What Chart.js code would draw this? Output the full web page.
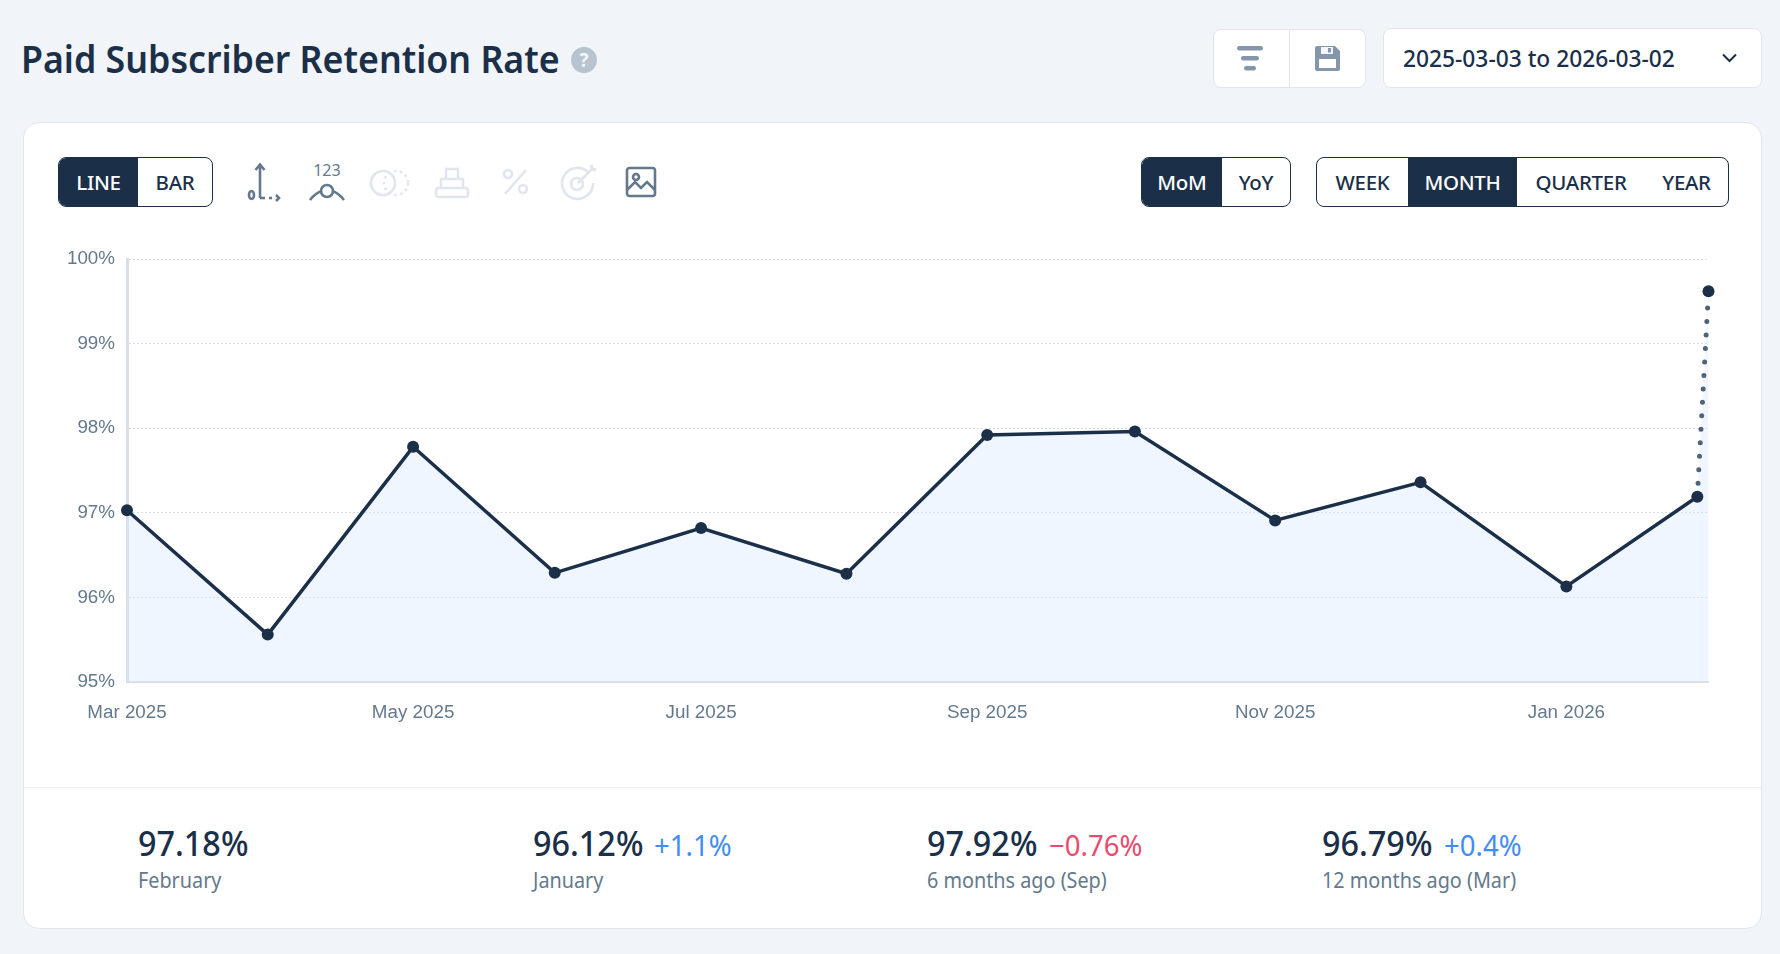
<!DOCTYPE html>
<html>
<head>
<meta charset="utf-8">
<title>Paid Subscriber Retention Rate</title>
<script src="https://cdn.jsdelivr.net/npm/chart.js@4"></script>
<style>
html, body { margin: 0; padding: 0; }
body { width: 1780px; height: 954px; background: #f1f4f9; overflow: hidden; position: relative; font-family: "Noto Sans", sans-serif; color: #1b3048; }
.abs { position: absolute; }
.txt { position: absolute; white-space: nowrap; transform-origin: left center; transform: scaleX(.9); line-height: 1; }
h1.txt { margin: 0; left: 21px; top: 39px; font-size: 38px; font-weight: 600; transform: scaleX(.94); }
.box { position: absolute; background: #fff; border: 1px solid #e1e6ee; border-radius: 8px; box-sizing: border-box; }
#card { left: 23px; top: 122px; width: 1739px; height: 807px; border-radius: 16px; }
#divider { position: absolute; left: 24px; top: 787px; width: 1737px; height: 1px; background: #edf0f4; }
.group { position: absolute; top: 157px; height: 50px; box-sizing: border-box; border: 1px solid #1b3048; border-radius: 8px; overflow: hidden; background: #fff; display: flex; }
.group span { display: block; height: 100%; text-align: center; line-height: 48px; font-size: 20.5px; font-weight: 500; letter-spacing: -.3px; color: #1b3048; }
.group span.on { background: #1b3048; color: #fff; }
svg { position: absolute; overflow: visible; }
canvas { position: absolute; left: 23px; top: 220px; }
.val { font-size: 35px; font-weight: 500; top: 825px; transform: scaleX(.925); }
.delta { font-size: 29px; font-weight: 400; top: 830px; transform: scaleX(.95); }
.sub { font-size: 22px; color: #64798c; top: 868px; }
</style>
</head>
<body>
<h1 class="txt">Paid Subscriber Retention Rate</h1>
<svg style="left:571px;top:47px" width="26" height="26" viewBox="0 0 26 26"><circle cx="13" cy="13" r="13" fill="#b7c4d0"/><text x="13" y="20" text-anchor="middle" font-family="Noto Sans" font-weight="700" font-size="19" fill="#f1f4f9">?</text></svg>

<div class="box" style="left:1213px;top:29px;width:153px;height:59px"></div>
<div class="abs" style="left:1289px;top:29px;width:1px;height:59px;background:#e1e6ee"></div>
<svg style="left:1237px;top:45px" width="27" height="26"><g fill="#8497aa"><rect x="0" y="1" width="26" height="4.5" rx="2.2"/><rect x="4" y="11" width="18" height="4.5" rx="2.2"/><rect x="7" y="21" width="12" height="4.5" rx="2.2"/></g></svg>
<svg style="left:1315px;top:46px" width="26" height="25"><path d="M0 2a2 2 0 0 1 2-2h18l5 5v18a2 2 0 0 1-2 2H2a2 2 0 0 1-2-2z" fill="#8497aa"/><rect x="4" y="13" width="17" height="9" fill="#fff"/><rect x="6" y="1" width="12" height="7" fill="#f4f6f9"/><rect x="13" y="2" width="3" height="4.5" fill="#8497aa"/></svg>
<div class="box" style="left:1383px;top:28px;width:379px;height:60px"></div>
<span class="txt" id="range" style="left:1403px;top:46px;font-size:24px;font-weight:500;transform:scaleX(.948)"></span>
<svg style="left:1722px;top:53px" width="15" height="10"><path d="M1 1.5l6.5 6.5 6.5-6.5" fill="none" stroke="#1b3048" stroke-width="2"/></svg>

<div class="box" id="card"></div>
<div id="divider"></div>

<div class="group" style="left:58px;width:155px"><span class="on" style="width:80px">LINE</span><span style="width:75px">BAR</span></div>
<div class="group" style="left:1141px;width:150px"><span class="on" style="width:81px">MoM</span><span style="width:69px">YoY</span></div>
<div class="group" style="left:1316px;width:413px"><span style="width:91px">WEEK</span><span class="on" style="width:109px">MONTH</span><span style="width:128px">QUARTER</span><span style="width:83px">YEAR</span></div>

<!-- toolbar icons -->
<svg style="left:247px;top:162px" width="34" height="40" fill="none" stroke="#64798c" stroke-width="2.6">
  <path d="M13 36V3M8.5 8L13 2.5 17.5 8"/><ellipse cx="4.5" cy="33" rx="2.5" ry="4"/><path d="M13 36h5" /><path d="M22 36h3" /><path d="M29 33l3 3-3 3" />
</svg>
<svg style="left:308px;top:161px" width="38" height="40" fill="none" stroke="#64798c" stroke-width="2.6">
  <text x="20" y="15" text-anchor="middle" font-family="Noto Sans" font-size="17" fill="#64798c" stroke="none" transform="scale(.95 1)">123</text>
  <circle cx="19" cy="30" r="6"/><path d="M2 39c4-5 8-8 12-9M36 39c-4-5-8-8-12-9"/>
</svg>
<svg style="left:369px;top:169px" width="41" height="28" fill="none" stroke="#e1e6ee" stroke-width="2.6">
  <circle cx="27" cy="14" r="12" stroke-dasharray="2.5 3.5"/><circle cx="14" cy="14" r="12"/>
</svg>
<svg style="left:434px;top:166px" width="36" height="33" fill="none" stroke="#e1e6ee" stroke-width="2.6">
  <rect x="2" y="22" width="32" height="9" rx="2.5"/><path d="M7 22v-9h22v9M12 13V3h12v10"/>
</svg>
<svg style="left:502px;top:168px" width="28" height="28" fill="none" stroke="#e1e6ee" stroke-width="2.6">
  <circle cx="6" cy="6" r="4"/><circle cx="21" cy="21" r="4"/><path d="M24 2L3 26"/>
</svg>
<svg style="left:561px;top:162px" width="39" height="38" fill="none" stroke="#e1e6ee" stroke-width="2.6">
  <path d="M28 11a15.5 15.5 0 1 0 4 10"/><circle cx="16" cy="22" r="6"/><path d="M17 21L32 6"/><path d="M30 3l1 4 4 1" stroke-width="3.4"/>
</svg>
<svg style="left:625px;top:166px" width="32" height="32" fill="none" stroke="#64798c" stroke-width="2.6">
  <rect x="2" y="2" width="28" height="28" rx="2.5"/><circle cx="11" cy="11" r="3"/><path d="M2 24l8-8 6 6 6-6 8 8"/>
</svg>

<canvas id="grafico" width="1738" height="560"></canvas>

<div id="stats"></div>

<script>
const dateRange = '2025-03-03 to 2026-03-02';

// meses no eixo x e posição de cada ponto (dias desde o início)
const tickLabels = ['Mar 2025', 'May 2025', 'Jul 2025', 'Sep 2025', 'Nov 2025', 'Jan 2026'];
const tickDays = [0, 61.4, 123.2, 184.6, 246.4, 308.9];
const days = [0, 30.2, 61.4, 91.8, 123.2, 154.4, 184.6, 216.3, 246.4, 277.6, 308.9, 337, 339.4];
const retention = [97.03, 95.56, 97.78, 96.29, 96.82, 96.28, 97.92, 97.96, 96.91, 97.36, 96.13, 97.19, 99.62];
const yTicks = [95, 96, 97, 98, 99, 100];

const statValues = ['97.18%', '96.12%', '97.92%', '96.79%'];
const statDeltas = ['', '+1.1%', '\u22120.76%', '+0.4%'];
const statDeltaColors = ['', '#3f8cf6', '#ea4a6e', '#3f8cf6'];
const statNames = ['February', 'January', '6 months ago (Sep)', '12 months ago (Mar)'];
const statLeft = [137.5, 532.5, 927, 1322];
const statDeltaLeft = [0, 654, 1049, 1444];

document.getElementById('range').textContent = dateRange;

// Linha de estatísticas em baixo
const stats = document.getElementById('stats');
statValues.forEach((valor, i) => {
    stats.innerHTML += `<span class="txt val" style="left:${statLeft[i]}px">${valor}</span>`;
    if (statDeltas[i]) {
        stats.innerHTML += `<span class="txt delta" style="left:${statDeltaLeft[i]}px;color:${statDeltaColors[i]}">${statDeltas[i]}</span>`;
    }
    stats.innerHTML += `<span class="txt sub" style="left:${statLeft[i]}px">${statNames[i]}</span>`;
});

const ultimo = days.length - 1;
const ctx = document.getElementById('grafico').getContext('2d');

new Chart(ctx, {
    type: 'line',
    data: {
        datasets: [{
            data: days.map((d, i) => ({ x: d, y: retention[i] })),
            borderColor: '#1b3048',
            borderWidth: 3.5,
            backgroundColor: 'rgba(214,232,255,.4)',
            fill: 'start',
            tension: 0,
            pointRadius: 6,
            pointBorderWidth: 0,
            pointBackgroundColor: '#1b3048',
            clip: false,
            segment: {
                borderDash: c => c.p1DataIndex === ultimo ? [0, 13.5] : undefined,
                borderColor: c => c.p1DataIndex === ultimo ? '#4f6278' : undefined,
                borderWidth: c => c.p1DataIndex === ultimo ? 5 : undefined,
                borderCapStyle: c => c.p1DataIndex === ultimo ? 'round' : undefined
            }
        }]
    },
    options: {
        responsive: false,
        animation: false,
        layout: { padding: { top: 39, right: 52.5, left: 0, bottom: 0 } },
        plugins: { legend: { display: false }, tooltip: { enabled: false } },
        scales: {
            x: {
                type: 'linear',
                min: days[0],
                max: days[ultimo],
                afterFit: scale => { scale.height = 98; },
                afterBuildTicks: scale => { scale.ticks = tickDays.map(v => ({ value: v })); },
                grid: { display: false },
                border: { display: true, color: '#d9e0ea', width: 2 },
                ticks: {
                    autoSkip: false,
                    maxRotation: 0,
                    padding: 12,
                    color: '#64798c',
                    font: { family: 'Liberation Sans', size: 18.8 },
                    callback: v => tickLabels[tickDays.indexOf(v)]
                }
            },
            y: {
                min: yTicks[0],
                max: yTicks[yTicks.length - 1],
                afterFit: scale => { scale.width = 104; },
                afterBuildTicks: scale => { scale.ticks = yTicks.map(v => ({ value: v })); },
                grid: { color: '#d8dee8', lineWidth: 1, drawTicks: false },
                border: { display: true, color: '#d9dfe8', width: 3, dash: [2, 2] },
                ticks: {
                    padding: 12,
                    color: '#64798c',
                    font: { family: 'Liberation Sans', size: 18.8 },
                    callback: v => v + '%'
                }
            }
        }
    }
});
</script>
</body>
</html>
